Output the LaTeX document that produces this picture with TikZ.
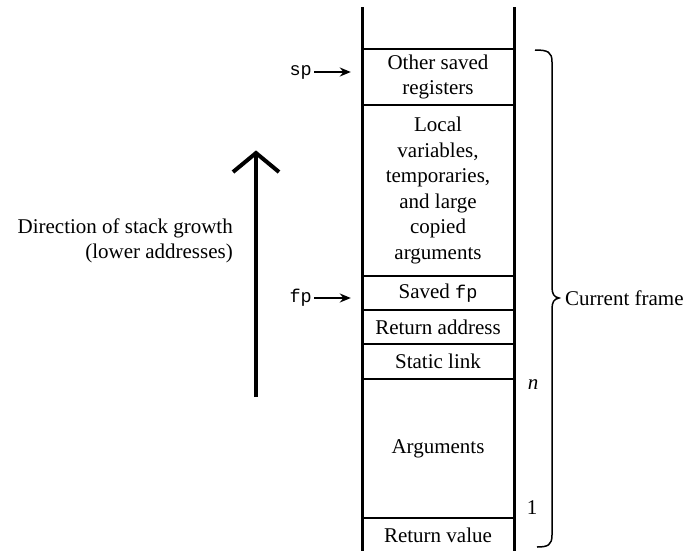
\documentclass[tikz,border=0pt]{standalone}
\usepackage{fontspec}
\setmainfont{Liberation Serif}
\setmonofont{Liberation Mono}
\usetikzlibrary{arrows.meta}
\newcommand{\regfont}{\fontsize{18.5}{22}\selectfont\ttfamily}
\begin{document}
\begin{tikzpicture}[x=1pt,y=-1pt,
  cell/.style={draw, line width=2.4pt, minimum width=152pt, inner sep=0pt,
    align=center, font=\fontsize{21}{25.5}\selectfont},
  wall/.style={line width=3pt},
  ptr/.style={line width=1.8pt, -{Stealth[length=11pt,width=9pt]}},
  reg/.style={font=\regfont, inner sep=0pt},
  lbl/.style={font=\fontsize{21}{25.5}\selectfont, inner sep=0pt},
  growth/.style={line width=4pt},
  bracepath/.style={line width=1.5pt},
]
\useasboundingbox (0,0) rectangle (689,550);

% stack cells
\node[cell, minimum height=56pt]  (osr)  at (438,77)    {Other saved\\registers};
\node[cell, minimum height=171pt] (loc)  at (438,190.5) {Local\\variables,\\temporaries,\\and large\\copied\\arguments};
\node[cell, minimum height=34pt]  (sfp)  at (438,293)   {Saved {\regfont fp}};
\node[cell, minimum height=34pt]  (ra)   at (438,327)   {Return address};
\node[cell, minimum height=35pt]  (sl)   at (438,361.5) {Static link};
\node[cell, minimum height=139pt] (args) at (438,448.5) {Arguments};
\node[cell, minimum height=36pt]  (rv)   at (438,536)   {\raisebox{2pt}{Return value}};

% stack walls
\draw[wall] (362,7) -- (362,556);
\draw[wall] (514,7) -- (514,556);

% register pointers
\node[reg, anchor=east] (sp) at (312,72) {sp};
\node[reg, anchor=east] (fp) at (312,298) {fp};
\draw[ptr] (sp.east) ++(2,0) -- ([xshift=-10pt]osr.west |- sp.east);
\draw[ptr] (fp.east) ++(2,0) -- ([xshift=-10pt]sfp.west |- fp.east);

% argument indices
\node[lbl] (argn) at (533,385) {\textit{n}};
\node[lbl] (arg1) at (532,508) {1};

% direction of growth
\coordinate (gbot) at (256,397);
\coordinate (gtop) at (256,153);
\draw[growth] (gbot) -- (gtop);
\draw[growth, miter limit=10] ([shift={(-23,19)}]gtop) -- (gtop) -- ([shift={(23,19)}]gtop);
\node[lbl, anchor=east, align=right] (dir) at (233,241)
  {Direction of stack growth\\(lower addresses)};

% current frame brace
\draw[bracepath] (535,50) .. controls (548,50) and (552,52) .. (552,62)
  -- (552,287) .. controls (552,294) and (554,297) .. (559,298)
  .. controls (554,299) and (552,302) .. (552,309)
  -- (552,535) .. controls (552,545) and (548,547) .. (537,547);
\node[lbl, anchor=west] (cf) at (565,298) {Current frame};
\end{tikzpicture}
\end{document}
